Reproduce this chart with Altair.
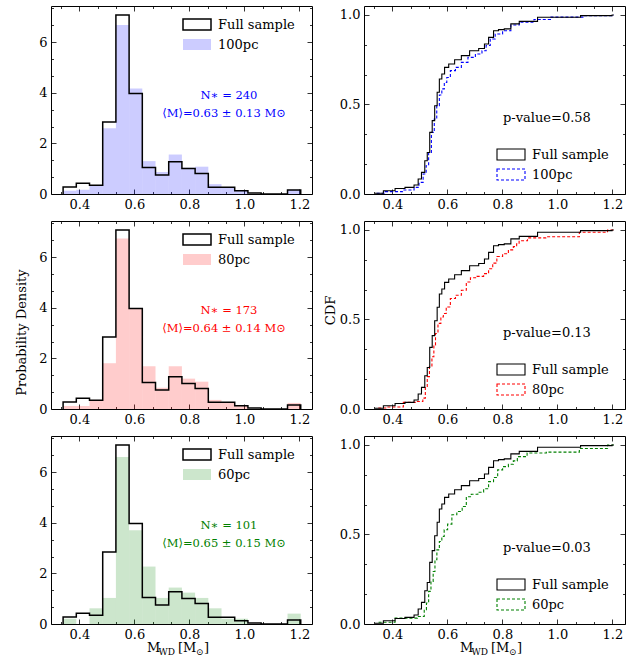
import altair as alt
import pandas as pd

# ------------------------------------------------------------------ data
bin_edges = [0.341, 0.389, 0.437, 0.485, 0.533, 0.581, 0.629, 0.677, 0.725, 0.773,
             0.821, 0.869, 0.917, 0.965, 1.013, 1.061, 1.109, 1.157, 1.205]
full_density = [0.28, 0.42, 0.35, 2.85, 7.07, 3.97, 1.05, 0.75, 1.27, 1.01,
                0.81, 0.27, 0.27, 0.13, 0.04, 0.0, 0.0, 0.16]
density_100pc = [0.13, 0.17, 0.35, 2.60, 6.68, 4.17, 1.30, 0.87, 1.56, 1.04,
                 1.08, 0.39, 0.26, 0.13, 0.0, 0.0, 0.0, 0.17]
density_80pc = [0.12, 0.12, 0.36, 1.81, 6.74, 3.97, 1.69, 0.84, 1.69, 1.20,
                1.08, 0.36, 0.24, 0.12, 0.0, 0.0, 0.0, 0.24]
density_60pc = [0.21, 0.0, 0.62, 1.03, 6.60, 3.71, 2.27, 1.03, 1.44, 1.24,
                1.03, 0.62, 0.21, 0.21, 0.0, 0.0, 0.0, 0.41]

subsample_labels = ["100pc", "80pc", "60pc"]
subsample_colors = ["#0000ff", "#ff0000", "#008000"]
n_stars = [240, 173, 101]
mean_mass = [0.63, 0.64, 0.65]
std_mass = [0.13, 0.14, 0.15]
p_values = [0.58, 0.13, 0.03]

cdf_full_m = [0.337, 0.398, 0.422, 0.470, 0.488, 0.500, 0.512, 0.524, 0.530, 0.542,
              0.548, 0.560, 0.566, 0.576, 0.584, 0.596, 0.614, 0.639, 0.663, 0.699,
              0.729, 0.741, 0.759, 0.777, 0.795, 0.819, 0.843, 0.880, 0.976, 1.193, 1.205]
cdf_full_p = [0.004, 0.018, 0.031, 0.037, 0.050, 0.084, 0.121, 0.186, 0.232, 0.344,
              0.410, 0.493, 0.568, 0.642, 0.670, 0.707, 0.726, 0.750, 0.773, 0.800,
              0.813, 0.838, 0.875, 0.912, 0.918, 0.922, 0.950, 0.964, 0.987, 0.996, 1.000]

cdf_100pc_m = [0.343, 0.404, 0.470, 0.488, 0.506, 0.518, 0.528, 0.536, 0.548, 0.557,
               0.566, 0.576, 0.584, 0.594, 0.602, 0.620, 0.639, 0.663, 0.687, 0.717,
               0.735, 0.747, 0.765, 0.783, 0.819, 0.843, 0.880, 0.950, 1.000, 1.190, 1.205]
cdf_100pc_p = [0.004, 0.013, 0.022, 0.037, 0.065, 0.112, 0.158, 0.232, 0.344, 0.419,
               0.493, 0.553, 0.587, 0.623, 0.651, 0.689, 0.707, 0.735, 0.763, 0.782,
               0.800, 0.829, 0.866, 0.894, 0.912, 0.944, 0.960, 0.975, 0.988, 0.996, 1.000]

cdf_80pc_m = [0.349, 0.410, 0.470, 0.506, 0.516, 0.524, 0.530, 0.540, 0.548, 0.554,
              0.560, 0.572, 0.581, 0.590, 0.602, 0.620, 0.639, 0.663, 0.675, 0.693,
              0.723, 0.741, 0.759, 0.771, 0.789, 0.813, 0.831, 0.849, 0.855, 0.867,
              0.916, 1.000, 1.160, 1.205]
cdf_80pc_p = [0.006, 0.011, 0.037, 0.042, 0.061, 0.126, 0.181, 0.237, 0.292, 0.357,
              0.422, 0.478, 0.514, 0.533, 0.570, 0.617, 0.635, 0.663, 0.709, 0.733,
              0.741, 0.756, 0.783, 0.815, 0.852, 0.867, 0.889, 0.907, 0.922, 0.940,
              0.956, 0.962, 0.987, 1.000]

cdf_60pc_m = [0.350, 0.470, 0.512, 0.520, 0.528, 0.536, 0.545, 0.552, 0.558, 0.566,
              0.576, 0.584, 0.593, 0.609, 0.624, 0.645, 0.663, 0.675, 0.699, 0.723,
              0.741, 0.759, 0.777, 0.789, 0.813, 0.831, 0.849, 0.860, 0.920, 1.000,
              1.160, 1.205]
cdf_60pc_p = [0.010, 0.033, 0.042, 0.080, 0.117, 0.182, 0.238, 0.293, 0.359, 0.414,
              0.461, 0.489, 0.526, 0.558, 0.610, 0.628, 0.656, 0.711, 0.725, 0.736,
              0.755, 0.795, 0.818, 0.861, 0.879, 0.892, 0.911, 0.935, 0.955, 0.960,
              0.980, 1.000]

sub_densities = [density_100pc, density_80pc, density_60pc]
sub_cdf_m = [cdf_100pc_m, cdf_80pc_m, cdf_60pc_m]
sub_cdf_p = [cdf_100pc_p, cdf_80pc_p, cdf_60pc_p]

# ------------------------------------------------------------------ style
FONT = "DejaVu Serif"
W, H = 261, 188
X_DOMAIN = [0.297, 1.246]
HIST_Y_DOMAIN = [0, 7.43]
CDF_Y_DOMAIN = [0, 1.05]

X_MAJOR = [0.4, 0.6, 0.8, 1.0, 1.2]
X_TICKS = [0.3333, 0.4, 0.4667, 0.5333, 0.6, 0.6667, 0.7333, 0.8, 0.8667,
           0.9333, 1.0, 1.0667, 1.1333, 1.2]
X_TEST = "abs(datum.value*5 - round(datum.value*5)) < 0.01"
HY_MAJOR = [0, 2, 4, 6]
HY_TICKS = [0, 0.6667, 1.3333, 2, 2.6667, 3.3333, 4, 4.6667, 5.3333, 6, 6.6667, 7.3333]
HY_TEST = "abs(datum.value/2 - round(datum.value/2)) < 0.01"
CY_MAJOR = [0, 0.5, 1.0]
CY_TICKS = [0, 0.1667, 0.3333, 0.5, 0.6667, 0.8333, 1.0]
CY_TEST = "abs(datum.value*2 - round(datum.value*2)) < 0.01"


def tick_axis(orient, values, test, offset):
    return alt.Axis(orient=orient, offset=offset, values=values, labels=False,
                    domain=False, grid=False, title=None, ticks=True,
                    tickColor="black", tickWidth=0.8,
                    tickSize={"condition": {"test": test, "value": 5}, "value": 2.5})


def label_axis(orient, values, fmt, title=None, **kw):
    args = dict(orient=orient, values=values, format=fmt, ticks=False, domain=False,
                grid=False, labelPadding=4, labelFont=FONT, labelFontSize=13,
                labelColor="black")
    if title is None:
        args["title"] = None
    else:
        args.update(title=title, titleFont=FONT, titleFontSize=13,
                    titleFontWeight="normal", titleColor="black")
        args.update(kw)
    return alt.Axis(**args)


def text_layer(s, x, y, size=13, color="black", align="left", baseline="middle"):
    return alt.Chart(pd.DataFrame({"t": [s]})).mark_text(
        font=FONT, fontSize=size, color=color, align=align, baseline=baseline
    ).encode(text="t:N", x=alt.value(x), y=alt.value(y))


def rect_layer(x, x2, y, y2, **style):
    return alt.Chart(pd.DataFrame({"k": [0]})).mark_rect(**style).encode(
        x=alt.value(x), x2=alt.value(x2), y=alt.value(y), y2=alt.value(y2))


def xtitle_layers():
    yb = H + 28
    return [
        text_layer("M", 96, yb, 13, baseline="alphabetic"),
        text_layer("WD", 107.5, yb + 3, 9, baseline="alphabetic"),
        text_layer("[M", 127, yb, 13, baseline="alphabetic"),
        text_layer("⊙", 145, yb + 3, 9, baseline="alphabetic"),
        text_layer("]", 153, yb, 13, baseline="alphabetic"),
    ]


def tick_layers(df, xf, yf, xs, ys, y_ticks, y_test):
    a = alt.Chart(df).mark_point(opacity=0).encode(
        x=alt.X(xf, scale=xs, axis=tick_axis("top", X_TICKS, X_TEST, -H)),
        y=alt.Y(yf, scale=ys, axis=tick_axis("right", y_ticks, y_test, -W)))
    b = alt.Chart(df).mark_point(opacity=0).encode(
        x=alt.X(xf, scale=xs, axis=tick_axis("bottom", X_TICKS, X_TEST, -H)),
        y=alt.Y(yf, scale=ys, axis=tick_axis("left", y_ticks, y_test, -W)))
    return [a, b]


def hist_panel(i):
    color = subsample_colors[i]
    xs = alt.Scale(domain=X_DOMAIN, nice=False, zero=False)
    ys = alt.Scale(domain=HIST_Y_DOMAIN, nice=False, zero=False)
    hist_df = pd.DataFrame({"lo": bin_edges[:-1], "hi": bin_edges[1:],
                            "full": full_density, "sub": sub_densities[i],
                            "base": [0.0] * len(full_density)})
    sx = [bin_edges[0]] + bin_edges[:-1] + [bin_edges[-1], bin_edges[-1]]
    sy = [0.0] + full_density + [full_density[-1], 0.0]
    step_df = pd.DataFrame({"x": sx, "y": sy, "o": list(range(len(sx)))})

    ytitle = "Probability Density" if i == 1 else None
    bars = alt.Chart(hist_df).mark_rect(color=color, opacity=0.2).encode(
        x=alt.X("lo:Q", scale=xs, axis=label_axis("bottom", X_MAJOR, ".1f")),
        x2="hi:Q",
        y=alt.Y("sub:Q", scale=ys,
                axis=label_axis("left", HY_MAJOR, "d", ytitle, titlePadding=10, titleY=111)),
        y2="base:Q")
    outline = alt.Chart(step_df).mark_line(
        interpolate="step-after", color="black", strokeWidth=1.5).encode(
        x=alt.X("x:Q", scale=xs, axis=None), y=alt.Y("y:Q", scale=ys, axis=None),
        order="o:Q")
    layers = [bars, outline] + tick_layers(hist_df, "lo:Q", "full:Q", xs, ys, HY_TICKS, HY_TEST)
    layers += [
        rect_layer(132, 160, 13, 24, fill="white", stroke="black", strokeWidth=1.5),
        rect_layer(132, 160, 33, 44, fill=color, opacity=0.2),
        text_layer("Full sample", 167, 18.5),
        text_layer(subsample_labels[i], 167, 38.5),
        text_layer(f"N∗ = {n_stars[i]}", 178, 90, 11.5, color, "center"),
        text_layer(f"⟨M⟩=0.{int(round(mean_mass[i]*100)):02d} ± 0.{int(round(std_mass[i]*100)):02d} M⊙",
                   173, 108, 11.5, color, "center"),
    ]
    if i == 2:
        layers += xtitle_layers()
    return alt.layer(*layers).resolve_axis(x="independent", y="independent").properties(
        width=W, height=H)


def cdf_panel(i):
    color = subsample_colors[i]
    xs = alt.Scale(domain=X_DOMAIN, nice=False, zero=False)
    ys = alt.Scale(domain=CDF_Y_DOMAIN, nice=False, zero=False)
    full_df = pd.DataFrame({"m": cdf_full_m, "p": cdf_full_p, "o": list(range(len(cdf_full_m)))})
    sub_df = pd.DataFrame({"m": sub_cdf_m[i], "p": sub_cdf_p[i], "o": list(range(len(sub_cdf_m[i])))})
    ytitle = "CDF" if i == 1 else None
    full_line = alt.Chart(full_df).mark_line(
        interpolate="step", color="black", strokeWidth=1.1).encode(
        x=alt.X("m:Q", scale=xs, axis=label_axis("bottom", X_MAJOR, ".1f")),
        y=alt.Y("p:Q", scale=ys, axis=label_axis("left", CY_MAJOR, ".1f", ytitle,
                                                  titlePadding=2, titleY=89)),
        order="o:Q")
    sub_line = alt.Chart(sub_df).mark_line(
        interpolate="step", color=color, strokeWidth=1.1, strokeDash=[3, 2]).encode(
        x=alt.X("m:Q", scale=xs, axis=None), y=alt.Y("p:Q", scale=ys, axis=None),
        order="o:Q")
    layers = [sub_line, full_line] + tick_layers(full_df, "m:Q", "p:Q", xs, ys, CY_TICKS, CY_TEST)
    layers += [
        text_layer(f"p-value={p_values[i]:.2f}", 139, 112),
        rect_layer(133, 161, 143, 154, fill="white", stroke="black", strokeWidth=1.1),
        rect_layer(133, 161, 163, 174, fill="white", stroke=color, strokeWidth=1.1,
                   strokeDash=[3, 2]),
        text_layer("Full sample", 168, 148.5),
        text_layer(subsample_labels[i], 168, 168.5),
    ]
    if i == 2:
        layers += xtitle_layers()
    return alt.layer(*layers).resolve_axis(x="independent", y="independent").properties(
        width=W, height=H)


panels = []
for k in range(3):
    panels.append(hist_panel(k))
    panels.append(cdf_panel(k))

chart = alt.concat(*panels, columns=2, spacing={"row": 8, "column": 10}).properties(
    padding={"left": 15, "top": 5, "right": 5, "bottom": 5},
    background="white",
).configure_view(stroke="black", strokeWidth=1)

chart.save("out.html", embed_options={"renderer": "svg", "actions": False})
